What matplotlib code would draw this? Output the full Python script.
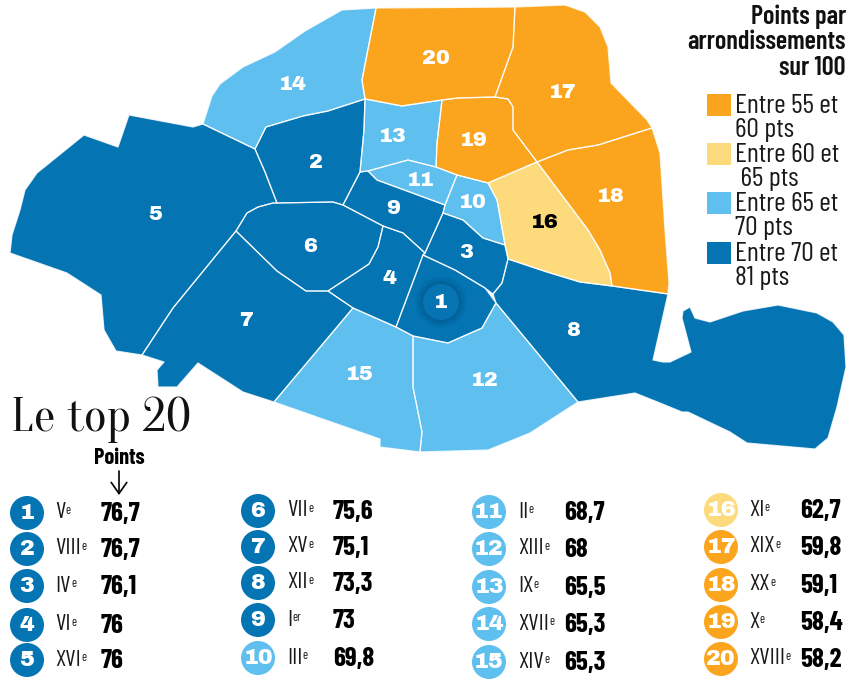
import numpy as np
import matplotlib
matplotlib.use("Agg")
import matplotlib.pyplot as plt
from matplotlib.patches import Circle, Rectangle

NARROW = ["Barlow Condensed", "Roboto", "DejaVu Sans"]
HEAVY = ["Archivo Black", "DejaVu Sans"]
TITLE = ["Oranienbaum", "Liberation Serif"]

# ranking table
ranks = list(range(1, 21))
arrondissements = ["V", "VIII", "IV", "VI", "XVI", "VII", "XV", "XII", "I", "III",
                   "II", "XIII", "IX", "XVII", "XIV", "XI", "XIX", "XX", "X", "XVIII"]
suffixes = ["e"] * 8 + ["er"] + ["e"] * 11
points = [76.7, 76.7, 76.1, 76, 76, 75.6, 75.1, 73.3, 73, 69.8,
          68.7, 68, 65.5, 65.3, 65.3, 62.7, 59.8, 59.1, 58.4, 58.2]

class_edges = [60, 65, 70]
class_colors = ["#fba51f", "#fddb7c", "#5fbfef", "#0474b3"]
class_labels = ["Entre 55 et\n60 pts", "Entre 60 et\n 65 pts", "Entre 65 et\n70 pts", "Entre 70 et\n81 pts"]

# district outlines
district_1 = [(423, 255), (455, 270), (485, 288), (496, 303), (482, 328), (448, 343), (413, 336), (396, 327)]
district_2 = [(255, 149), (266, 127), (303, 116), (328, 111), (365, 99), (364, 130), (360, 172), (343, 205),
              (333, 202), (277, 203), (265, 172)]
district_3 = [(443, 213), (463, 220), (483, 238), (505, 245), (508, 259), (502, 283), (493, 294), (485, 288),
              (455, 270), (423, 255), (425, 253)]
district_4 = [(383, 226), (403, 233), (425, 253), (423, 255), (396, 327), (353, 308), (328, 291), (369, 264),
              (378, 247)]
district_5 = [(203, 124), (193, 127), (129, 115), (118, 147), (84, 135), (37, 173), (25, 190), (20, 210),
              (12, 235), (10, 253), (67, 273), (101, 295), (104, 330), (116, 351), (142, 355), (173, 308),
              (236, 231), (247, 213), (258, 207), (273, 203), (277, 203), (265, 172), (255, 149)]
district_6 = [(236, 231), (247, 213), (258, 207), (273, 203), (333, 202), (343, 205), (383, 226), (378, 247),
              (369, 264), (328, 291), (306, 291), (277, 271)]
district_7 = [(236, 231), (277, 271), (306, 291), (328, 291), (353, 308), (274, 402), (243, 392), (198, 363),
              (177, 387), (158, 387), (157, 370), (164, 362), (142, 355), (173, 308)]
district_8 = [(508, 259), (547, 272), (580, 282), (612, 286), (668, 294), (653, 360), (663, 362), (670, 362),
              (691, 352), (682, 318), (683, 311), (690, 307), (695, 318), (710, 322), (743, 311), (778, 305),
              (817, 313), (833, 322), (844, 335), (846, 367), (837, 407), (828, 438), (815, 449), (747, 443),
              (730, 432), (688, 412), (682, 412), (660, 403), (635, 393), (578, 402), (496, 303), (493, 294),
              (502, 283)]
district_9 = [(343, 205), (360, 172), (368, 171), (377, 180), (445, 205), (443, 213), (425, 253), (403, 233),
              (383, 226)]
district_10 = [(457, 175), (488, 183), (497, 200), (505, 245), (483, 238), (463, 220), (443, 213), (445, 205)]
district_11 = [(368, 171), (408, 160), (436, 167), (457, 175), (445, 205), (377, 180)]
district_12 = [(413, 336), (448, 343), (482, 328), (496, 303), (578, 402), (530, 433), (488, 450), (420, 452),
               (422, 432), (413, 387)]
district_13 = [(365, 99), (402, 106), (442, 100), (437, 143), (436, 167), (408, 160), (368, 171), (360, 172),
               (364, 130)]
district_14 = [(203, 124), (212, 96), (220, 84), (243, 67), (275, 52), (305, 31), (342, 10), (376, 8), (362, 80),
               (365, 99), (328, 111), (303, 116), (266, 127), (255, 149)]
district_15 = [(353, 308), (396, 327), (413, 336), (413, 387), (422, 432), (420, 452), (380, 447), (380, 439),
               (274, 402)]
district_16 = [(488, 183), (537, 162), (588, 230), (600, 250), (610, 273), (612, 286), (580, 282), (547, 272),
               (508, 259), (505, 245), (497, 200)]
district_17 = [(515, 7), (565, 5), (585, 12), (600, 27), (608, 47), (611, 83), (647, 120), (652, 128), (598, 145),
               (568, 150), (537, 162), (513, 130), (513, 107), (508, 99), (495, 97), (513, 47)]
district_18 = [(652, 128), (660, 153), (665, 230), (669, 283), (668, 294), (612, 286), (610, 273), (600, 250),
               (588, 230), (537, 162), (568, 150), (598, 145)]
district_19 = [(442, 100), (458, 98), (495, 97), (508, 99), (513, 107), (513, 130), (537, 162), (488, 183),
               (457, 175), (436, 167), (437, 143)]
district_20 = [(376, 8), (515, 7), (513, 47), (495, 97), (458, 98), (442, 100), (402, 106), (365, 99), (362, 80)]

districts = [district_1, district_2, district_3, district_4, district_5, district_6, district_7, district_8,
             district_9, district_10, district_11, district_12, district_13, district_14, district_15,
             district_16, district_17, district_18, district_19, district_20]
label_xy = [(441, 302), (316, 163), (466, 252), (390, 279), (155, 215), (310, 246), (246, 321), (573, 330),
            (393, 209), (473, 203), (421, 180), (485, 381), (393, 137), (293, 85), (360, 374), (545, 222),
            (563, 93), (611, 197), (474, 141), (436, 59)]

colors = [class_colors[i] for i in np.digitize(points, class_edges)]

fig = plt.figure(figsize=(8.5, 6.84), dpi=100)
ax = fig.add_axes([0, 0, 1, 1])
ax.set_xlim(0, 850)
ax.set_ylim(684, 0)
ax.axis("off")

# map
for outline, color in zip(districts, colors):
    xs, ys = zip(*outline)
    ax.fill(xs, ys, facecolor=color, edgecolor="none", zorder=1)
for outline in districts:
    xs, ys = zip(*outline)
    ax.fill(xs, ys, facecolor="none", edgecolor="white", lw=0.9, alpha=0.8, zorder=2, joinstyle="round")

# halo behind the number one
for r, a in zip([26, 24, 22, 20, 18], [0.05, 0.07, 0.09, 0.12, 0.15]):
    ax.add_patch(Circle(label_xy[0], r, color="#02395c", alpha=a, lw=0, zorder=3))
ax.add_patch(Circle(label_xy[0], 18, color="#0674b3", lw=0, zorder=3))

for rank, (x, y), color in zip(ranks, label_xy, colors):
    txt = "black" if color == class_colors[1] else "white"
    ax.text(x, y, str(rank), color=txt, ha="center", va="center", fontsize=15,
            family=HEAVY, zorder=4)

# legend
ax.text(846, 42, "Points par\narrondissements\nsur 100", ha="right", va="center", fontsize=19,
        family=NARROW, weight="semibold", linespacing=1.08, color="#111111")
swatch_y = [94, 143, 192, 242]
for y, color, label in zip(swatch_y, class_colors, class_labels):
    ax.add_patch(Rectangle((707, y), 24, 22, color=color, lw=0))
    ax.text(735, y + 12, label.split("\n")[0], va="center", ha="left", fontsize=20, family=NARROW, color="#1a1a1a")
    ax.text(735, y + 36, label.split("\n")[1], va="center", ha="left", fontsize=20, family=NARROW, color="#1a1a1a")

# ranking
ax.text(11, 431, "Le top 20", fontsize=35, family=TITLE, ha="left", va="baseline", color="#111111")
ax.text(119, 458, "Points", fontsize=16, family=NARROW, weight="bold", ha="center", va="center")
ax.annotate("", xy=(119, 495), xytext=(119, 471),
            arrowprops=dict(arrowstyle="->,head_length=0.4,head_width=0.28", lw=1.2, color="black",
                            mutation_scale=20, shrinkA=0, shrinkB=0))

col_x = [(27, 55, 101), (258, 287, 333), (489, 518, 564), (721, 749, 800)]
col_y = [[513, 549, 586, 625, 660], [511, 547, 583, 620, 658], [512, 549, 587, 624, 662], [510, 547, 585, 622, 659]]
for i, (rank, arr, suffix, value, color) in enumerate(zip(ranks, arrondissements, suffixes, points, colors)):
    cx, rx, vx = col_x[i // 5]
    y = col_y[i // 5][i % 5]
    ax.add_patch(Circle((cx, y), 17, color=color, lw=0))
    ax.text(cx, y, str(rank), color="white", ha="center", va="center", fontsize=16, family=HEAVY)
    name = ax.text(rx, y, arr, ha="left", va="center", fontsize=17, family=NARROW, color="#1a1a1a")
    ax.annotate(suffix, xy=(1, 1), xycoords=name, xytext=(0.3, -1), textcoords="offset points", ha="left", va="top",
                fontsize=9, family=NARROW, color="#1a1a1a", annotation_clip=False)
    ax.text(vx, y + 1, f"{value:g}".replace(".", ","), ha="left", va="center", fontsize=19.5, family=NARROW, weight="bold", color="black")

fig.savefig("out.png", dpi=100, facecolor="white")
